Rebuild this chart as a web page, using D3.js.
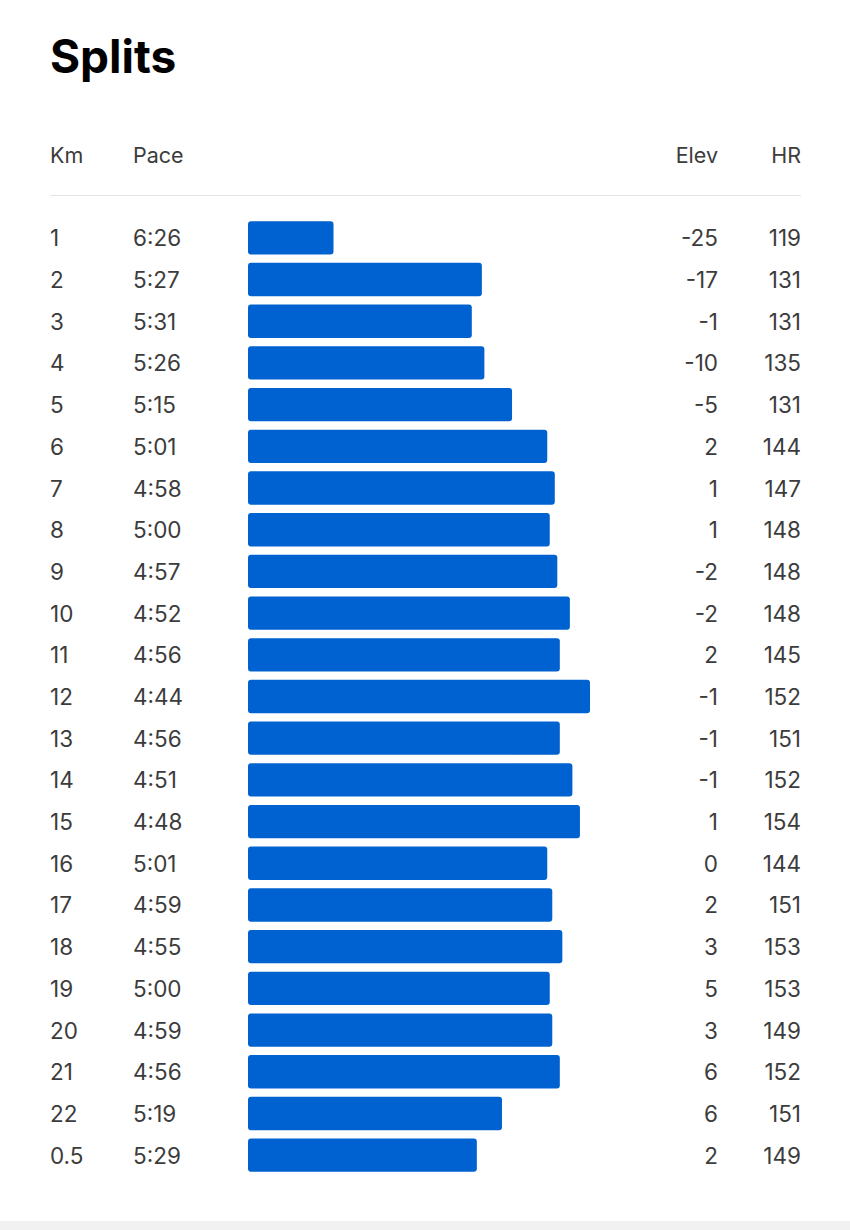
<!DOCTYPE html>
<html><head><meta charset="utf-8">
<script src="https://cdn.jsdelivr.net/npm/d3@7"></script>
<style>
html,body{margin:0;padding:0;background:#fff;}
svg{display:block;}
</style></head>
<body>
<script>
const title = "Splits";
const headers = ["Km", "Pace", "Elev", "HR"];
const km = ["1","2","3","4","5","6","7","8","9","10","11","12","13","14","15","16","17","18","19","20","21","22","0.5"];
const pace = ["6:26","5:27","5:31","5:26","5:15","5:01","4:58","5:00","4:57","4:52","4:56","4:44","4:56","4:51","4:48","5:01","4:59","4:55","5:00","4:59","4:56","5:19","5:29"];
const elev = [-25,-17,-1,-10,-5,2,1,1,-2,-2,2,-1,-1,-1,1,0,2,3,5,3,6,6,2];
const hr = [119,131,131,135,131,144,147,148,148,148,145,152,151,152,154,144,151,153,153,149,152,151,149];

const W = 850, H = 1230;
const font = "Inter, 'Noto Sans', sans-serif";
const svg = d3.select("body").append("svg").attr("width", W).attr("height", H);
svg.append("rect").attr("width", W).attr("height", H).attr("fill", "#fff");
svg.append("rect").attr("x", 0).attr("y", 1221).attr("width", W).attr("height", 9).attr("fill", "#f1f1f1");

const secs = pace.map(p => { const [m, s] = p.split(":").map(Number); return m * 60 + s; });

const y = d3.scaleBand().domain(d3.range(km.length)).range([217, 1176]).paddingInner(0.2).paddingOuter(0.1);
const x = d3.scaleLinear().domain([420, 284]).range([0, 342]);
const barX = 248;

svg.append("text").attr("x", 50).attr("y", 73).text(title)
  .attr("font-family", font).attr("font-size", 46).attr("font-weight", 700).attr("fill", "#000");

const hdrX = [50, 133, 718, 801], hdrA = ["start","start","end","end"];
headers.forEach((h, i) => {
  svg.append("text").attr("x", hdrX[i]).attr("y", 163).text(h)
    .attr("text-anchor", hdrA[i]).attr("font-family", font).attr("font-size", 21.5).attr("fill", "#3c3c3c");
});
svg.append("line").attr("x1", 50).attr("x2", 801).attr("y1", 195.5).attr("y2", 195.5)
  .attr("stroke", "#e3e3e3").attr("stroke-width", 1);

const rows = svg.selectAll("g.row").data(km.map((k, i) => i)).join("g").attr("class", "row");
rows.append("rect")
  .attr("x", barX).attr("y", i => y(i)).attr("height", y.bandwidth())
  .attr("width", i => x(secs[i])).attr("rx", 3).attr("fill", "#0062d1");
const cy = i => y(i) + y.bandwidth() / 2 + 8.5;
const txt = (sel, xx, anchor, f) => sel.append("text").attr("x", xx).attr("y", cy)
  .attr("text-anchor", anchor).attr("font-family", font).attr("font-size", 22.5).attr("fill", "#3c3c3c").text(f);
txt(rows, 50, "start", i => km[i]);
txt(rows, 133, "start", i => pace[i]);
txt(rows, 718, "end", i => String(elev[i]));
txt(rows, 801, "end", i => String(hr[i]));
</script>
</body></html>
